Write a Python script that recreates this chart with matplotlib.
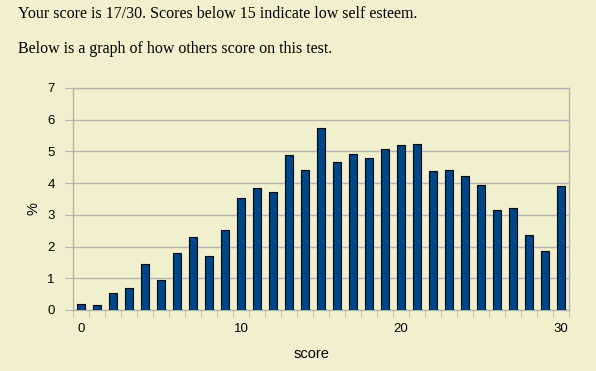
import matplotlib
matplotlib.use("Agg")
import matplotlib.pyplot as plt
import numpy as np

scores = list(range(0, 31))
percent = [0.18, 0.15, 0.53, 0.68, 1.44, 0.94, 1.79, 2.29, 1.69, 2.52,
           3.53, 3.84, 3.72, 4.88, 4.41, 5.74, 4.67, 4.92, 4.80, 5.08,
           5.21, 5.24, 4.39, 4.42, 4.23, 3.95, 3.15, 3.23, 2.36, 1.86, 3.91]
xticks = [0, 10, 20, 30]
yticks = [0, 1, 2, 3, 4, 5, 6, 7]

bg = "#F0F0CE"
grid = "#B3B3B3"
plt.rcParams["font.family"] = ["Liberation Sans", "DejaVu Sans"]

fig = plt.figure(figsize=(5.96, 3.71), dpi=100, facecolor=bg)
ax = fig.add_axes([73 / 596, 61 / 371, 496 / 596, 222 / 371], facecolor=bg)

ax.bar(scores, percent, width=0.5, color="#004586", edgecolor="black",
       linewidth=0.8, zorder=3)

ax.set_xlim(-0.5, 30.5)
ax.set_ylim(0, 7)
ax.set_yticks(yticks)
ax.set_xticks(xticks)
ax.set_xticks(np.arange(-0.5, 31, 1), minor=True)
ax.tick_params(axis="x", which="major", length=0, pad=9, labelsize=9.5)
ax.tick_params(axis="x", which="minor", length=5, color=grid, direction="out")
ax.tick_params(axis="y", length=6, color=grid, pad=7, labelsize=9.5)
ax.yaxis.grid(True, color=grid, linewidth=1, zorder=0)
for s in ax.spines.values():
    s.set_color(grid)
    s.set_linewidth(1)

ax.set_xlabel("score", fontsize=10.5)
ax.set_ylabel("%", fontsize=10.5)
ax.xaxis.set_label_coords((311 - 73) / 496, -(358 - 310) / 222)
ax.xaxis.label.set_va("baseline")
ax.yaxis.set_label_coords(-(73 - 34) / 496, (310 - 209) / 222)
ax.yaxis.label.set_va("center")

fig.text(18 / 596, 1 - 18 / 371,
         "Your score is 17/30. Scores below 15 indicate low self esteem.",
         family="Liberation Serif", fontsize=11.5, va="baseline")
fig.text(18 / 596, 1 - 53 / 371,
         "Below is a graph of how others score on this test.",
         family="Liberation Serif", fontsize=11.5, va="baseline")

fig.savefig("out.png", dpi=100, facecolor=bg)
